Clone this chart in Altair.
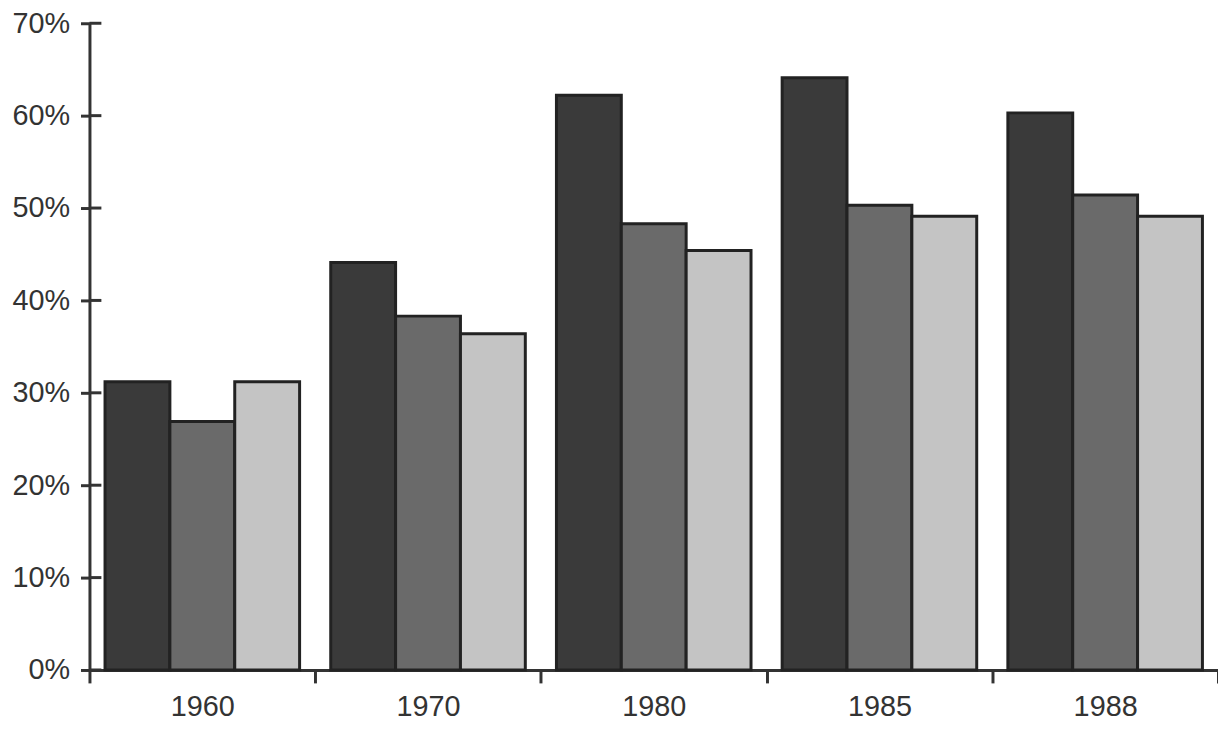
import altair as alt
import pandas as pd

years = ["1960", "1970", "1980", "1985", "1988"]
series = ["Series A", "Series B", "Series C"]
values_a = [31.2, 44.1, 62.2, 64.1, 60.3]
values_b = [26.9, 38.3, 48.3, 50.3, 51.4]
values_c = [31.2, 36.4, 45.4, 49.1, 49.1]
colors = ["#3a3a3a", "#6a6a6a", "#c4c4c4"]
y_ticks = [0, 10, 20, 30, 40, 50, 60, 70]

rows = []
for i, yr in enumerate(years):
    for s, vals in zip(series, [values_a, values_b, values_c]):
        rows.append({"year": yr, "series": s, "value": vals[i]})
df = pd.DataFrame(rows)
ticks_df = pd.DataFrame({"t": y_ticks})

W, H = 1136, 651
FONT = "Liberation Sans"

yscale = alt.Scale(domain=[0, 70], nice=False, zero=True)

bars = alt.Chart(df).mark_bar(stroke="#222222", strokeWidth=3).encode(
    x=alt.X("year:N", sort=years,
            scale=alt.Scale(paddingInner=0, paddingOuter=0),
            axis=alt.Axis(title=None, labelAngle=0, tickBand="extent",
                          tickSize=13, tickWidth=3, tickColor="#333333",
                          domainColor="#333333", domainWidth=3,
                          labelFont=FONT, labelFontSize=29, labelColor="#333333",
                          labelPadding=10)),
    xOffset=alt.XOffset("series:N", sort=series,
                        scale=alt.Scale(paddingInner=0, paddingOuter=0.24)),
    y=alt.Y("value:Q", scale=yscale,
            axis=alt.Axis(title=None, values=y_ticks,
                          labelExpr="datum.value + '%'",
                          tickSize=9, tickWidth=3, tickColor="#333333",
                          domainColor="#333333", domainWidth=3,
                          labelFont=FONT, labelFontSize=29, labelColor="#333333",
                          labelPadding=11, grid=False)),
    color=alt.Color("series:N", sort=series,
                    scale=alt.Scale(domain=series, range=colors), legend=None),
)

inner_ticks = alt.Chart(ticks_df).mark_rule(color="#333333", strokeWidth=3).encode(
    y=alt.Y("t:Q", scale=yscale),
    x=alt.value(0),
    x2=alt.value(12),
)

chart = alt.layer(bars, inner_ticks).properties(
    width=W, height=H,
    autosize=alt.AutoSizeParams(type="none"),
    padding={"left": 82, "top": 13, "right": 0, "bottom": 50},
    background="white",
).configure_view(stroke=None)

chart.save("out.html", embed_options={"renderer": "svg", "actions": False})
